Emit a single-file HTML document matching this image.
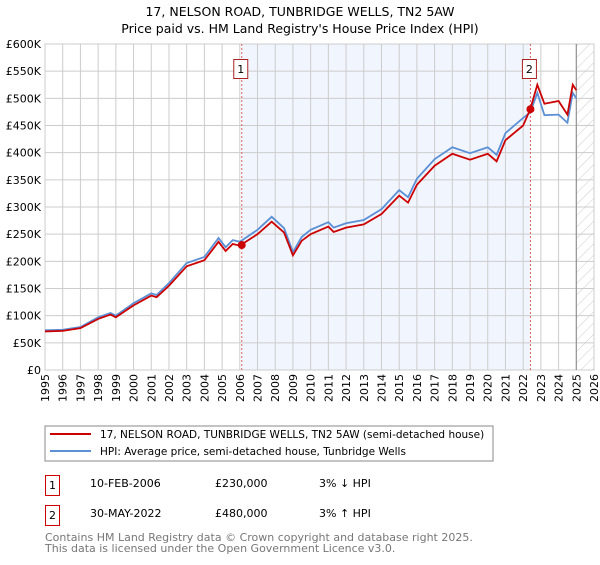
<!DOCTYPE html>
<html><head><meta charset="utf-8"><style>
body{margin:0;background:#fff}
svg{font-family:"DejaVu Sans","Liberation Sans",sans-serif}
</style></head><body>
<svg id="c" width="600" height="560" viewBox="0 0 600 560">
<defs><pattern id="hatch" width="8" height="8" patternUnits="userSpaceOnUse" patternTransform="rotate(45)"><line x1="0" y1="0" x2="0" y2="8" stroke="#ccc" stroke-width="1"/></pattern></defs>
<text x="300" y="16" text-anchor="middle" font-size="12.5">17, NELSON ROAD, TUNBRIDGE WELLS, TN2 5AW</text>
<text x="300" y="33" text-anchor="middle" font-size="12.5">Price paid vs. HM Land Registry's House Price Index (HPI)</text>
<g id="plot"></g>
<rect x="45" y="426" width="448" height="35" fill="#fff" stroke="#888"/>
<line x1="50" y1="434" x2="91" y2="434" stroke="#cc0000" stroke-width="2"/>
<text x="100" y="438" font-size="10.5">17, NELSON ROAD, TUNBRIDGE WELLS, TN2 5AW (semi-detached house)</text>
<line x1="50" y1="451" x2="91" y2="451" stroke="#5b8fd6" stroke-width="2"/>
<text x="100" y="455" font-size="10.5">HPI: Average price, semi-detached house, Tunbridge Wells</text>
<g font-size="11">
<rect x="45.5" y="475.5" width="14" height="20" fill="#fff" stroke="#cc0000"/><text x="52.5" y="489" text-anchor="middle">1</text>
<text x="90" y="487">10-FEB-2006</text><text x="215" y="487">£230,000</text><text x="319" y="487">3% ↓ HPI</text>
<rect x="45.5" y="505.5" width="14" height="20" fill="#fff" stroke="#cc0000"/><text x="52.5" y="519" text-anchor="middle">2</text>
<text x="90" y="517">30-MAY-2022</text><text x="215" y="517">£480,000</text><text x="319" y="517">3% ↑ HPI</text>
</g>
<text x="45" y="541" font-size="11" fill="#777">Contains HM Land Registry data © Crown copyright and database right 2025.</text>
<text x="45" y="552" font-size="11" fill="#777">This data is licensed under the Open Government Licence v3.0.</text>
</svg>
<script>
const hpiYears=[1995,1996,1997,1998,1998.7,1999,2000,2001,2001.3,2002,2003,2004,2004.8,2005.2,2005.6,2006,2007,2007.8,2008.5,2009,2009.5,2010,2011,2011.3,2012,2013,2014,2015,2015.5,2016,2017,2018,2019,2020,2020.5,2021,2022,2022.4,2022.8,2023.2,2024,2024.5,2024.8,2025];
const hpiValues=[73,74,79,97,105,100,123,141,138,160,197,208,243,226,239,236,258,282,261,217,245,258,272,262,270,276,296,331,318,352,388,410,399,410,396,436,464,474,510,469,470,455,510,500];
const priceValues=[71,72,77,94,102,97,119,137,134,155,191,202,236,219,232,229,250,273,253,211,238,250,264,254,262,268,287,321,308,341,376,398,387,398,384,423,450,480,525,490,495,470,525,515];
const yTicks=[0,50,100,150,200,250,300,350,400,450,500,550,600];
const yTickLabels=["£0","£50K","£100K","£150K","£200K","£250K","£300K","£350K","£400K","£450K","£500K","£550K","£600K"];
const xTicks=[1995,1996,1997,1998,1999,2000,2001,2002,2003,2004,2005,2006,2007,2008,2009,2010,2011,2012,2013,2014,2015,2016,2017,2018,2019,2020,2021,2022,2023,2024,2025,2026];
const saleYears=[2006.11,2022.41];
const saleValues=[230,480];
const saleLabels=["1","2"];

const L=45,R=594,T=44,B=370,X0=1995,X1=2026;
const x=v=>L+(v-X0)/(X1-X0)*(R-L);
const y=v=>B-v/600*(B-T);
const NS="http://www.w3.org/2000/svg";
const g=document.getElementById('plot');
function mk(t,a,p){const e=document.createElementNS(NS,t);for(const k in a)e.setAttribute(k,a[k]);(p||g).appendChild(e);return e;}
mk('rect',{x:x(saleYears[0]),y:T,width:x(saleYears[1])-x(saleYears[0]),height:B-T,fill:'#eef3fd',opacity:0.8});
mk('rect',{x:x(2025),y:T,width:R-x(2025),height:B-T,fill:'url(#hatch)'});
yTicks.forEach((v,i)=>{
 const ln=mk('line',{x1:L,x2:R,y1:y(v),y2:y(v),stroke:'#ccc','stroke-width':1});
 
 
 const t=mk('text',{x:L-4,y:y(v)+4,'text-anchor':'end','font-size':11});
 t.textContent=yTickLabels[i];
 
 
});
xTicks.forEach(v=>{
 const ln=mk('line',{x1:x(v),x2:x(v),y1:T,y2:B,stroke:'#ccc','stroke-width':1});
 
 
 const t=mk('text',{x:0,y:0,'text-anchor':'end','font-size':11,transform:`translate(${x(v)+4},${B+4}) rotate(-90)`});
 t.textContent=v;
 
 
});
mk('rect',{x:L,y:T,width:R-L,height:B-T,fill:'none',stroke:'#ccc'});
mk('line',{x1:x(2025),x2:x(2025),y1:T,y2:B,stroke:'#888','stroke-width':1});
saleYears.forEach(s=>{mk('line',{x1:x(s),x2:x(s),y1:T,y2:B,stroke:'#e06060','stroke-dasharray':'2,2','stroke-width':1});});
const hp=mk('polyline',{points:hpiYears.map((v,i)=>x(v)+','+y(hpiValues[i])).join(' '),fill:'none',stroke:'#5b8fd6','stroke-width':1.8});


const pp=mk('polyline',{points:hpiYears.map((v,i)=>x(v)+','+y(priceValues[i])).join(' '),fill:'none',stroke:'#cc0000','stroke-width':1.8});


saleYears.forEach((s,i)=>{
 const c=mk('circle',{cx:x(s),cy:y(saleValues[i]),r:4,fill:'#cc0000'});
 
 
 const bx=x(s)-8;
 const r=mk('rect',{x:bx,y:59.5,width:14,height:19,fill:'#fff',stroke:'#aa2222'});
 
 
 const t=mk('text',{x:bx+7,y:73,'text-anchor':'middle','font-size':11});
 t.textContent=saleLabels[i];
 
 
});
</script>
</body></html>
